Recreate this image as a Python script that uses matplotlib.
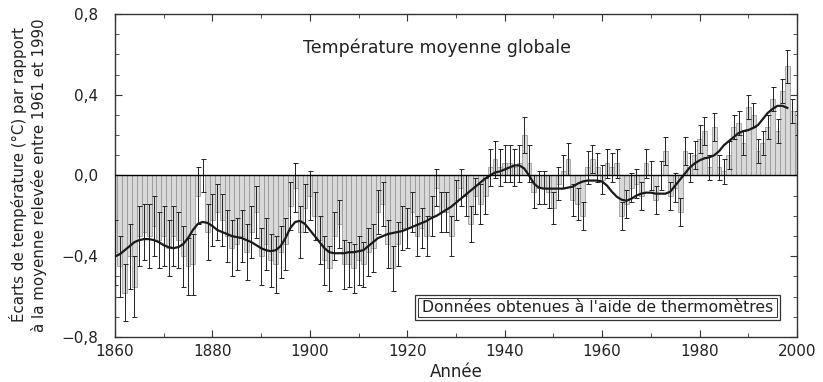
import matplotlib
matplotlib.use("Agg")
import matplotlib.pyplot as plt
from matplotlib.patches import Rectangle
from matplotlib.ticker import MultipleLocator, FuncFormatter

plt.rcParams['font.family'] = ['DejaVu Sans']

years = list(range(1860, 2001))

anomalies = [
    -0.38, -0.45, -0.58, -0.40, -0.55, -0.30, -0.28, -0.30, -0.25, -0.32,   # 1860s
    -0.30, -0.36, -0.30, -0.32, -0.40, -0.45, -0.44, -0.10, 0.00, -0.28,    # 1870s
    -0.22, -0.18, -0.22, -0.30, -0.36, -0.34, -0.30, -0.38, -0.28, -0.18,   # 1880s
    -0.40, -0.34, -0.42, -0.44, -0.38, -0.34, -0.15, -0.06, -0.28, -0.16,   # 1890s
    -0.10, -0.20, -0.32, -0.42, -0.46, -0.30, -0.24, -0.44, -0.44, -0.46,   # 1900s
    -0.42, -0.44, -0.38, -0.36, -0.18, -0.14, -0.34, -0.46, -0.34, -0.26,   # 1910s
    -0.26, -0.18, -0.30, -0.26, -0.30, -0.20, -0.06, -0.18, -0.18, -0.30,   # 1920s
    -0.12, -0.06, -0.10, -0.24, -0.10, -0.14, -0.10, 0.04, 0.08, 0.04,      # 1930s
    0.06, 0.06, 0.04, 0.06, 0.20, 0.06, -0.08, -0.06, -0.06, -0.08,         # 1940s
    -0.16, -0.04, 0.02, 0.08, -0.12, -0.14, -0.20, 0.04, 0.08, 0.04,        # 1950s
    -0.02, 0.06, 0.04, 0.06, -0.20, -0.14, -0.06, -0.04, -0.10, 0.06,       # 1960s
    0.00, -0.12, 0.00, 0.12, -0.10, -0.06, -0.18, 0.12, 0.04, 0.10,         # 1970s
    0.18, 0.22, 0.04, 0.24, 0.04, 0.02, 0.10, 0.24, 0.26, 0.16,             # 1980s
    0.34, 0.30, 0.12, 0.16, 0.24, 0.38, 0.22, 0.42, 0.54, 0.32,             # 1990s
    0.26,                                                                   # 2000
]

errors = [
    0.16, 0.15, 0.14, 0.16, 0.15, 0.15, 0.14, 0.16, 0.15, 0.14,
    0.15, 0.14, 0.15, 0.14, 0.15, 0.14, 0.15, 0.14, 0.08, 0.14,
    0.13, 0.14, 0.13, 0.13, 0.14, 0.13, 0.13, 0.14, 0.13, 0.13,
    0.14, 0.13, 0.13, 0.14, 0.13, 0.13, 0.12, 0.12, 0.13, 0.12,
    0.12, 0.12, 0.12, 0.12, 0.11, 0.12, 0.12, 0.12, 0.11, 0.12,
    0.12, 0.11, 0.12, 0.12, 0.11, 0.11, 0.12, 0.11, 0.11, 0.11,
    0.10, 0.10, 0.10, 0.10, 0.10, 0.10, 0.09, 0.10, 0.10, 0.10,
    0.10, 0.09, 0.10, 0.09, 0.09, 0.10, 0.09, 0.09, 0.09, 0.09,
    0.09, 0.09, 0.09, 0.09, 0.09, 0.09, 0.08, 0.08, 0.08, 0.08,
    0.08, 0.08, 0.08, 0.08, 0.08, 0.08, 0.07, 0.08, 0.07, 0.07,
    0.07, 0.07, 0.07, 0.07, 0.07, 0.07, 0.07, 0.07, 0.07, 0.07,
    0.07, 0.07, 0.07, 0.07, 0.07, 0.07, 0.07, 0.07, 0.07, 0.07,
    0.07, 0.07, 0.06, 0.07, 0.06, 0.06, 0.07, 0.06, 0.06, 0.06,
    0.06, 0.06, 0.06, 0.06, 0.06, 0.06, 0.06, 0.06, 0.08, 0.06,
    0.06,
]

smooth_years = list(range(1860, 1999))
smoothed = [
    -0.40, -0.39, -0.37, -0.35, -0.33, -0.32, -0.315, -0.315, -0.32, -0.33,
    -0.345, -0.355, -0.36, -0.355, -0.34, -0.31, -0.27, -0.24, -0.23, -0.235,
    -0.25, -0.27, -0.28, -0.29, -0.30, -0.305, -0.31, -0.32, -0.33, -0.345,
    -0.36, -0.37, -0.375, -0.37, -0.35, -0.31, -0.26, -0.23, -0.225, -0.24,
    -0.27, -0.30, -0.33, -0.36, -0.38, -0.385, -0.385, -0.385, -0.38, -0.38,
    -0.375, -0.37, -0.35, -0.33, -0.31, -0.30, -0.29, -0.285, -0.28, -0.275,
    -0.265, -0.255, -0.245, -0.235, -0.225, -0.21, -0.20, -0.185, -0.17, -0.155,
    -0.135, -0.115, -0.095, -0.075, -0.055, -0.035, -0.015, 0.00, 0.015, 0.02,
    0.03, 0.04, 0.05, 0.05, 0.035, 0.00, -0.04, -0.06, -0.065, -0.065,
    -0.065, -0.065, -0.065, -0.06, -0.055, -0.04, -0.03, -0.025, -0.025, -0.025,
    -0.03, -0.05, -0.08, -0.105, -0.12, -0.125, -0.115, -0.10, -0.09, -0.085,
    -0.085, -0.09, -0.09, -0.09, -0.08, -0.05, -0.02, 0.01, 0.04, 0.06,
    0.075, 0.085, 0.09, 0.10, 0.12, 0.15, 0.17, 0.19, 0.21, 0.22,
    0.225, 0.235, 0.25, 0.28, 0.31, 0.33, 0.345, 0.345, 0.335,
]

title_text = "Température moyenne globale"
box_text = "Données obtenues à l'aide de thermomètres"
xlabel_text = "Année"
ylabel_text = "Écarts de température (°C) par rapport\nà la moyenne relevée entre 1961 et 1990"

fig = plt.figure(figsize=(8.23, 3.82), dpi=100)
ax = fig.add_axes([0.1397, 0.1178, 0.8287, 0.8456])

ax.bar(years, anomalies, width=1.0, color='#d9d9d9', edgecolor='#8f8f8f',
       linewidth=0.5, zorder=2)
ax.errorbar(years, anomalies, yerr=errors, fmt='none', ecolor='#222222',
            elinewidth=0.7, capsize=1.8, capthick=0.7, zorder=3)
ax.plot(smooth_years, smoothed, color='#1a1a1a', lw=1.6, zorder=4)
ax.axhline(0, color='black', lw=1.0, zorder=5)

ax.set_xlim(1860, 2000)
ax.set_ylim(-0.8, 0.8)
ax.xaxis.set_major_locator(MultipleLocator(20))
ax.xaxis.set_minor_locator(MultipleLocator(10))
ax.yaxis.set_major_locator(MultipleLocator(0.4))
ax.yaxis.set_minor_locator(MultipleLocator(0.1))
ax.yaxis.set_major_formatter(FuncFormatter(
    lambda v, p: ("%.1f" % v).replace('.', ',').replace('-', '\u2212')))
ax.tick_params(which='both', direction='in', top=True, right=True,
               labelsize=11, color='#333333', labelcolor='#222222')
ax.tick_params(which='major', length=5)
ax.tick_params(which='minor', length=3)
ax.tick_params(axis='y', pad=12)
ax.tick_params(axis='x', pad=5)
for s in ax.spines.values():
    s.set_color('#333333')
    s.set_linewidth(1.0)

ax.set_xlabel(xlabel_text, fontsize=12, labelpad=3, color='#222222')
fig.text(28 / 823, 0.542, ylabel_text, rotation=90, ha='center', va='center',
         fontsize=10.8, linespacing=1.35, color='#222222')

ax.text(0.472, 0.895, title_text, transform=ax.transAxes, ha='center',
        va='center', fontsize=12.5, color='#222222')

ax.add_patch(Rectangle((0.44, 0.053), 0.535, 0.077, transform=ax.transAxes,
                       fill=True, facecolor='white', edgecolor='#333333',
                       lw=0.9, zorder=6))
ax.add_patch(Rectangle((0.445, 0.063), 0.525, 0.057, transform=ax.transAxes,
                       fill=False, edgecolor='#333333', lw=0.7, zorder=7))
ax.text(0.7075, 0.0915, box_text, transform=ax.transAxes, ha='center',
        va='center', fontsize=11.3, color='#222222', zorder=8)

fig.savefig("out.png", dpi=100)
